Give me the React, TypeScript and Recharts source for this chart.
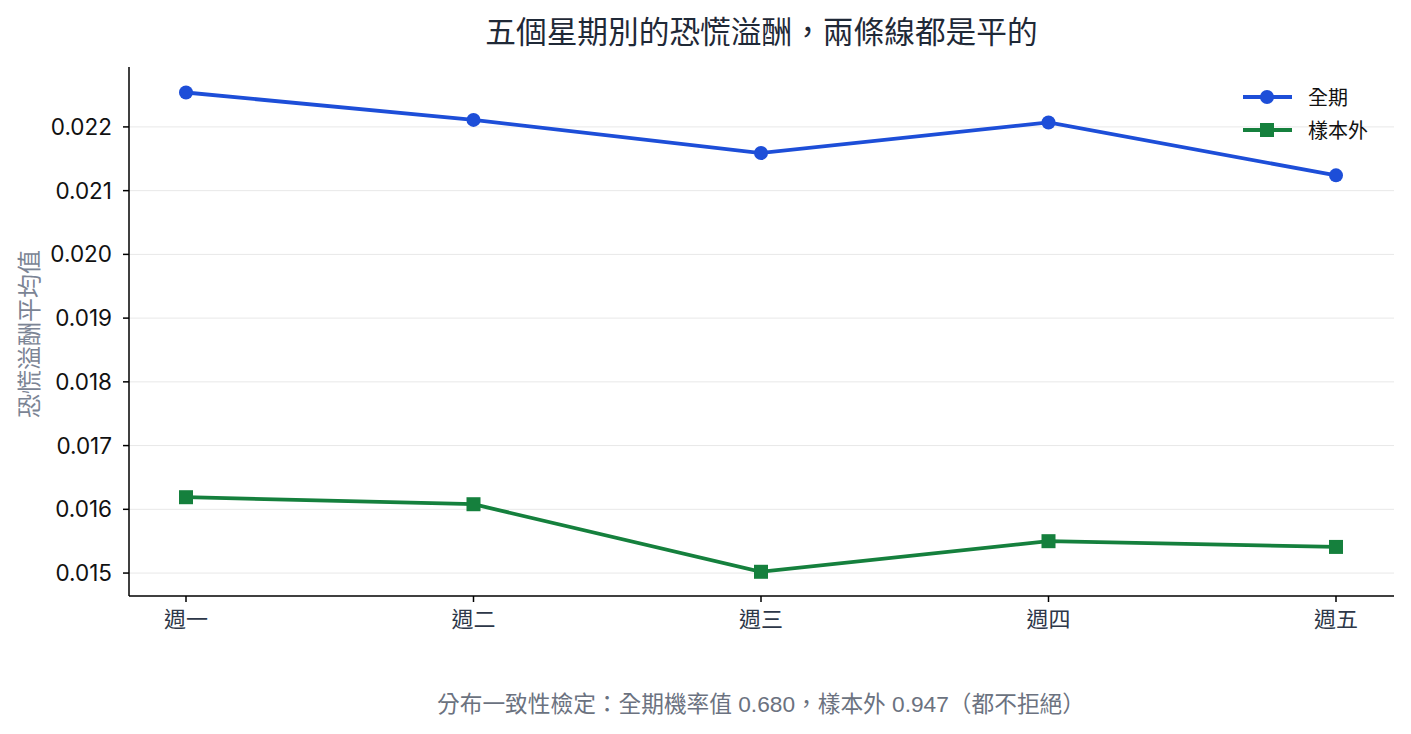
import React from "react";
import { CartesianGrid, Line, LineChart, XAxis, YAxis } from "recharts";

const days = ["週一", "週二", "週三", "週四", "週五"];
const fullPeriod = [0.02254, 0.02211, 0.02159, 0.02207, 0.02124];
const outOfSample = [0.01619, 0.01608, 0.01502, 0.0155, 0.01541];
const yTicks = [0.015, 0.016, 0.017, 0.018, 0.019, 0.02, 0.021, 0.022];

const BLUE = "#1d4ed8";
const GREEN = "#15803d";
const FONT = "'Noto Sans CJK TC', 'Noto Sans', sans-serif";
const NUM_FONT = "Inter, 'Noto Sans CJK TC', sans-serif";
const NOTE_FONT = "'Liberation Sans', 'Noto Sans CJK TC', sans-serif";

const data = days.map((day, i) => ({
  day,
  full: fullPeriod[i],
  oos: outOfSample[i]
}));

function SquareDot(props: any) {
  const { cx, cy, index } = props;
  if (cx == null || cy == null) return null;
  return <rect key={`sq-${index}`} x={cx - 7} y={cy - 7} width={14} height={14} fill={GREEN} />;
}

function LegendBox() {
  const items = [
    { name: "全期", color: BLUE, shape: "circle" },
    { name: "樣本外", color: GREEN, shape: "square" }
  ];
  return (
    <div style={{ fontFamily: FONT, fontSize: 20, color: "#111" }}>
      {items.map((it) => (
        <div key={it.name} style={{ display: "flex", alignItems: "center", height: 33 }}>
          <svg width={54} height={20} style={{ marginRight: 13 }}>
            <line x1={2} y1={10} x2={51} y2={10} stroke={it.color} strokeWidth={3.8} />
            {it.shape === "circle" ? (
              <circle cx={26} cy={10} r={7} fill={it.color} />
            ) : (
              <rect x={19} y={3} width={14} height={14} fill={it.color} />
            )}
          </svg>
          <span>{it.name}</span>
        </div>
      ))}
    </div>
  );
}

export default function App() {
  return (
    <div style={{ position: "absolute", left: 0, top: 0, width: 1411, height: 734, background: "#fff" }}>
      <div
        style={{
          position: "absolute",
          left: 129,
          width: 1265,
          top: 7,
          textAlign: "center",
          fontFamily: FONT,
          fontSize: 30.7,
          color: "#1f2937"
        }}
      >
        五個星期別的恐慌溢酬，兩條線都是平的
      </div>
      <LineChart
        width={1411}
        height={734}
        data={data}
        margin={{ top: 67, right: 17, left: 49, bottom: 98 }}
      >
        <CartesianGrid vertical={false} horizontalValues={yTicks} stroke="#e8e8e8" strokeWidth={1} />
        <XAxis
          dataKey="day"
          padding={{ left: 57, right: 58 }}
          height={40}
          axisLine={{ stroke: "#000", strokeWidth: 1.5 }}
          tickLine={{ stroke: "#000", strokeWidth: 1.5 }}
          tickSize={6}
          tickMargin={9}
          tick={{ fill: "#2d3748", fontSize: 22, fontFamily: FONT }}
        />
        <YAxis
          domain={[0.01464, 0.02294]}
          ticks={yTicks}
          width={80}
          tickFormatter={(v: number) => v.toFixed(3)}
          axisLine={{ stroke: "#000", strokeWidth: 1.5 }}
          tickLine={{ stroke: "#000", strokeWidth: 1.5 }}
          tickSize={6}
          tickMargin={11}
          tick={{ fill: "#111", fontSize: 22.5, fontFamily: NUM_FONT }}
        />
        <Line
          type="linear"
          dataKey="full"
          name="全期"
          stroke={BLUE}
          strokeWidth={3.8}
          dot={{ r: 7, fill: BLUE, stroke: BLUE, strokeWidth: 0 }}
          activeDot={false}
          isAnimationActive={false}
        />
        <Line
          type="linear"
          dataKey="oos"
          name="樣本外"
          stroke={GREEN}
          strokeWidth={3.8}
          dot={<SquareDot />}
          activeDot={false}
          isAnimationActive={false}
        />
      </LineChart>
      <div style={{ position: "absolute", left: 1241, top: 80 }}>
        <LegendBox />
      </div>
      <div
        style={{
          position: "absolute",
          left: 27,
          top: 334,
          transform: "translate(-50%, -50%) rotate(-90deg)",
          whiteSpace: "nowrap",
          fontFamily: FONT,
          fontSize: 24,
          color: "#7b8494"
        }}
      >
        恐慌溢酬平均值
      </div>
      <div
        style={{
          position: "absolute",
          left: 135,
          width: 1252,
          top: 686,
          textAlign: "center",
          fontFamily: NOTE_FONT,
          fontSize: 22.7,
          color: "#6b7280"
        }}
      >
        分布一致性檢定：全期機率值 0.680，樣本外 0.947（都不拒絕）
      </div>
    </div>
  );
}
